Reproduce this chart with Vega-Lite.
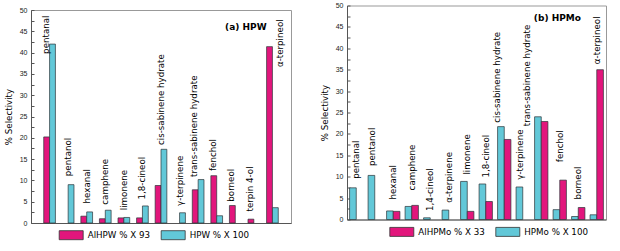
{
  "$schema": "https://vega.github.io/schema/vega-lite/v6.json",
  "padding": {"left": 3, "top": 0.5, "right": 0, "bottom": 0},
  "spacing": 27,
  "config": {
    "font": "DejaVu Sans",
    "view": {"stroke": "#999", "strokeWidth": 1},
    "axis": {"grid": false, "domainColor": "#555", "tickColor": "#555", "labelFont": "Liberation Sans", "labelFontSize": 7, "labelColor": "#222", "titleFont": "DejaVu Sans", "titleFontSize": 8.7, "titleFontWeight": "normal", "titleColor": "#000"},
    "axisX": {"labels": false, "ticks": false},
    "legend": {"labelFont": "DejaVu Sans", "labelFontSize": 8.7, "labelColor": "#000", "symbolType": "M-1,-0.375H1V0.375H-1Z", "symbolSize": 576, "symbolStrokeColor": "#333", "symbolStrokeWidth": 0.8, "symbolOpacity": 1, "columnPadding": 8, "padding": 0, "labelOffset": 4, "symbolOffset": 0, "direction": "horizontal", "orient": "none"}
  },
  "datasets": {
    "a": [
      {"cat": "pentanal", "s": "AlHPW % X 93", "v": 20.2},
      {"cat": "pentanal", "s": "HPW % X 100", "v": 42.0},
      {"cat": "pentanol", "s": "HPW % X 100", "v": 9.0},
      {"cat": "hexanal", "s": "AlHPW % X 93", "v": 1.6},
      {"cat": "hexanal", "s": "HPW % X 100", "v": 2.6},
      {"cat": "camphene", "s": "AlHPW % X 93", "v": 1.0},
      {"cat": "camphene", "s": "HPW % X 100", "v": 3.0},
      {"cat": "limonene", "s": "AlHPW % X 93", "v": 1.2},
      {"cat": "limonene", "s": "HPW % X 100", "v": 1.3},
      {"cat": "1,8-cineol", "s": "AlHPW % X 93", "v": 1.2},
      {"cat": "1,8-cineol", "s": "HPW % X 100", "v": 4.0},
      {"cat": "cis-sabinene hydrate", "s": "AlHPW % X 93", "v": 8.8},
      {"cat": "cis-sabinene hydrate", "s": "HPW % X 100", "v": 17.3},
      {"cat": "γ-terpinene", "s": "HPW % X 100", "v": 2.4},
      {"cat": "trans-sabinene hydrate", "s": "AlHPW % X 93", "v": 7.8},
      {"cat": "trans-sabinene hydrate", "s": "HPW % X 100", "v": 10.2},
      {"cat": "fenchol", "s": "AlHPW % X 93", "v": 11.1},
      {"cat": "fenchol", "s": "HPW % X 100", "v": 1.7},
      {"cat": "borneol", "s": "AlHPW % X 93", "v": 4.1},
      {"cat": "terpin 4-ol", "s": "AlHPW % X 93", "v": 0.9},
      {"cat": "α-terpineol", "s": "AlHPW % X 93", "v": 41.4},
      {"cat": "α-terpineol", "s": "HPW % X 100", "v": 3.6}
    ],
    "la": [
      {"cat": "pentanal", "at": 39.7, "slot": "l"},
      {"cat": "pentanol", "at": 11.0, "slot": "c"},
      {"cat": "hexanal", "at": 4.6, "slot": "c"},
      {"cat": "camphene", "at": 4.3, "slot": "c"},
      {"cat": "limonene", "at": 3.0, "slot": "c"},
      {"cat": "1,8-cineol", "at": 5.5, "slot": "c"},
      {"cat": "cis-sabinene hydrate", "at": 18.3, "slot": "c"},
      {"cat": "γ-terpinene", "at": 4.0, "slot": "c"},
      {"cat": "trans-sabinene hydrate", "at": 10.8, "slot": "l"},
      {"cat": "fenchol", "at": 12.2, "slot": "l"},
      {"cat": "borneol", "at": 5.0, "slot": "l"},
      {"cat": "terpin 4-ol", "at": 2.7, "slot": "l"},
      {"cat": "α-terpineol", "at": 36.6, "slot": "r"}
    ],
    "b": [
      {"cat": "pentanal", "s": "HPMo % X 100", "v": 7.4},
      {"cat": "pentanol", "s": "HPMo % X 100", "v": 10.3},
      {"cat": "hexanal", "s": "HPMo % X 100", "v": 2.0},
      {"cat": "hexanal", "s": "AlHPMo % X 33", "v": 1.9},
      {"cat": "camphene", "s": "HPMo % X 100", "v": 3.05},
      {"cat": "camphene", "s": "AlHPMo % X 33", "v": 3.3},
      {"cat": "1,4-cineol", "s": "HPMo % X 100", "v": 0.4},
      {"cat": "α-terpinene", "s": "HPMo % X 100", "v": 2.2},
      {"cat": "limonene", "s": "HPMo % X 100", "v": 8.9},
      {"cat": "limonene", "s": "AlHPMo % X 33", "v": 1.9},
      {"cat": "1,8-cineol", "s": "HPMo % X 100", "v": 8.3},
      {"cat": "1,8-cineol", "s": "AlHPMo % X 33", "v": 4.2},
      {"cat": "cis-sabinene hydrate", "s": "HPMo % X 100", "v": 21.7},
      {"cat": "cis-sabinene hydrate", "s": "AlHPMo % X 33", "v": 18.7},
      {"cat": "γ-terpinene", "s": "HPMo % X 100", "v": 7.6},
      {"cat": "trans-sabinene hydrate", "s": "HPMo % X 100", "v": 24.0},
      {"cat": "trans-sabinene hydrate", "s": "AlHPMo % X 33", "v": 22.9},
      {"cat": "fenchol", "s": "HPMo % X 100", "v": 2.3},
      {"cat": "fenchol", "s": "AlHPMo % X 33", "v": 9.2},
      {"cat": "borneol", "s": "HPMo % X 100", "v": 0.7},
      {"cat": "borneol", "s": "AlHPMo % X 33", "v": 2.8},
      {"cat": "α-terpineol", "s": "HPMo % X 100", "v": 1.1},
      {"cat": "α-terpineol", "s": "AlHPMo % X 33", "v": 35.0}
    ],
    "lb": [
      {"cat": "pentanal", "at": 9.5, "slot": "c"},
      {"cat": "pentanol", "at": 12.5, "slot": "l"},
      {"cat": "hexanal", "at": 4.7, "slot": "c"},
      {"cat": "camphene", "at": 6.8, "slot": "c"},
      {"cat": "1,4-cineol", "at": 2.0, "slot": "c"},
      {"cat": "α-terpinene", "at": 3.9, "slot": "c"},
      {"cat": "limonene", "at": 10.5, "slot": "c"},
      {"cat": "1,8-cineol", "at": 9.8, "slot": "c"},
      {"cat": "cis-sabinene hydrate", "at": 22.6, "slot": "ll"},
      {"cat": "γ-terpinene", "at": 9.3, "slot": "l"},
      {"cat": "trans-sabinene hydrate", "at": 21.8, "slot": "lll"},
      {"cat": "fenchol", "at": 13.4, "slot": "c"},
      {"cat": "borneol", "at": 4.7, "slot": "c"},
      {"cat": "α-terpineol", "at": 36.3, "slot": "c"}
    ]
  },
  "hconcat": [
    {
      "spacing": -1.5,
      "vconcat": [
        {
          "width": 260,
          "height": 1,
          "view": {"stroke": null},
          "data": {"values": []},
          "mark": "point"
        },
        {
          "width": 260,
          "height": 213,
          "layer": [
            {
              "data": {"name": "a"},
              "mark": {"type": "bar", "stroke": "#2b3338", "strokeWidth": 0.7},
              "encoding": {
                "x": {"field": "cat", "type": "nominal", "title": null,
                  "scale": {"domain": ["pentanal", "pentanol", "hexanal", "camphene", "limonene", "1,8-cineol", "cis-sabinene hydrate", "γ-terpinene", "trans-sabinene hydrate", "fenchol", "borneol", "terpin 4-ol", "α-terpineol"], "paddingInner": 0.37, "paddingOuter": 0.685}},
                "xOffset": {"field": "s", "type": "nominal", "scale": {"domain": ["AlHPW % X 93", "HPW % X 100"], "paddingInner": 0, "paddingOuter": 0}},
                "y": {"field": "v", "type": "quantitative", "title": "% Selectivity",
                  "scale": {"domain": [0, 50], "nice": false},
                  "axis": {"values": [0, 2.5, 5, 7.5, 10, 12.5, 15, 17.5, 20, 22.5, 25, 27.5, 30, 32.5, 35, 37.5, 40, 42.5, 45, 47.5, 50], "labelExpr": "datum.value % 5 === 0 ? datum.label : ''", "labelOverlap": false, "tickSize": -3, "labelPadding": 7, "titlePadding": 6}},
                "color": {"field": "s", "type": "nominal",
                  "scale": {"domain": ["AlHPW % X 93", "HPW % X 100"], "range": ["#e2167c", "#62c8d8"]},
                  "legend": {"title": null, "legendX": 27.7, "legendY": 217}}
              }
            },
            {
              "data": {"name": "la"},
              "transform": [{"filter": "datum.slot === 'c'"}],
              "mark": {"type": "text", "angle": 270, "align": "left", "baseline": "middle", "fontSize": 8.7, "color": "#000", "dy": 0},
              "encoding": {"x": {"field": "cat", "type": "nominal", "title": null}, "y": {"field": "at", "type": "quantitative", "title": "% Selectivity", "axis": {"values": [0, 2.5, 5, 7.5, 10, 12.5, 15, 17.5, 20, 22.5, 25, 27.5, 30, 32.5, 35, 37.5, 40, 42.5, 45, 47.5, 50], "labelExpr": "datum.value % 5 === 0 ? datum.label : ''", "labelOverlap": false, "tickSize": -3, "labelPadding": 7, "titlePadding": 6}}, "text": {"field": "cat"}}
            },
            {
              "data": {"name": "la"},
              "transform": [{"filter": "datum.slot === 'l'"}],
              "mark": {"type": "text", "angle": 270, "align": "left", "baseline": "middle", "fontSize": 8.7, "color": "#000", "dy": -4},
              "encoding": {"x": {"field": "cat", "type": "nominal", "title": null}, "y": {"field": "at", "type": "quantitative", "title": "% Selectivity", "axis": {"values": [0, 2.5, 5, 7.5, 10, 12.5, 15, 17.5, 20, 22.5, 25, 27.5, 30, 32.5, 35, 37.5, 40, 42.5, 45, 47.5, 50], "labelExpr": "datum.value % 5 === 0 ? datum.label : ''", "labelOverlap": false, "tickSize": -3, "labelPadding": 7, "titlePadding": 6}}, "text": {"field": "cat"}}
            },
            {
              "data": {"name": "la"},
              "transform": [{"filter": "datum.slot === 'r'"}],
              "mark": {"type": "text", "angle": 270, "align": "left", "baseline": "middle", "fontSize": 8.7, "color": "#000", "dy": 8},
              "encoding": {"x": {"field": "cat", "type": "nominal", "title": null}, "y": {"field": "at", "type": "quantitative", "title": "% Selectivity", "axis": {"values": [0, 2.5, 5, 7.5, 10, 12.5, 15, 17.5, 20, 22.5, 25, 27.5, 30, 32.5, 35, 37.5, 40, 42.5, 45, 47.5, 50], "labelExpr": "datum.value % 5 === 0 ? datum.label : ''", "labelOverlap": false, "tickSize": -3, "labelPadding": 7, "titlePadding": 6}}, "text": {"field": "cat"}}
            },
            {
              "data": {"values": [{"t": "(a) HPW"}]},
              "mark": {"type": "text", "align": "right", "baseline": "alphabetic", "fontSize": 9, "fontWeight": "bold", "color": "#000"},
              "encoding": {"x": {"datum": "α-terpineol", "type": "nominal", "bandPosition": 0, "title": null}, "y": {"datum": 45.3, "type": "quantitative", "title": "% Selectivity", "axis": {"values": [0, 2.5, 5, 7.5, 10, 12.5, 15, 17.5, 20, 22.5, 25, 27.5, 30, 32.5, 35, 37.5, 40, 42.5, 45, 47.5, 50], "labelExpr": "datum.value % 5 === 0 ? datum.label : ''", "labelOverlap": false, "tickSize": -3, "labelPadding": 7, "titlePadding": 6}}, "text": {"field": "t"}}
            }
          ]
        }
      ]
    },
    {
      "width": 259,
      "height": 214,
      "layer": [
        {
          "data": {"name": "b"},
          "mark": {"type": "bar", "stroke": "#2b3338", "strokeWidth": 0.7},
          "encoding": {
            "x": {"field": "cat", "type": "nominal", "title": null,
              "scale": {"domain": ["pentanal", "pentanol", "hexanal", "camphene", "1,4-cineol", "α-terpinene", "limonene", "1,8-cineol", "cis-sabinene hydrate", "γ-terpinene", "trans-sabinene hydrate", "fenchol", "borneol", "α-terpineol"], "paddingInner": 0.28, "paddingOuter": 0.14}},
            "xOffset": {"field": "s", "type": "nominal", "scale": {"domain": ["HPMo % X 100", "AlHPMo % X 33"], "paddingInner": 0, "paddingOuter": 0}},
            "y": {"field": "v", "type": "quantitative", "title": "% Selectivity",
              "scale": {"domain": [0, 50], "nice": false},
              "axis": {"values": [0, 2.5, 5, 7.5, 10, 12.5, 15, 17.5, 20, 22.5, 25, 27.5, 30, 32.5, 35, 37.5, 40, 42.5, 45, 47.5, 50], "labelExpr": "datum.value % 5 === 0 ? datum.label : ''", "labelOverlap": false, "tickSize": -3, "labelPadding": 7, "titlePadding": 6}},
            "color": {"field": "s", "type": "nominal",
              "scale": {"domain": ["AlHPMo % X 33", "HPMo % X 100"], "range": ["#e2167c", "#62c8d8"]},
              "legend": {"title": null, "legendX": 42.3, "legendY": 213.7}}
          }
        },
        {
          "data": {"name": "lb"},
          "transform": [{"filter": "datum.slot === 'c'"}],
          "mark": {"type": "text", "angle": 270, "align": "left", "baseline": "middle", "fontSize": 8.7, "color": "#000", "dy": 0},
          "encoding": {"x": {"field": "cat", "type": "nominal", "title": null}, "y": {"field": "at", "type": "quantitative", "title": "% Selectivity", "axis": {"values": [0, 2.5, 5, 7.5, 10, 12.5, 15, 17.5, 20, 22.5, 25, 27.5, 30, 32.5, 35, 37.5, 40, 42.5, 45, 47.5, 50], "labelExpr": "datum.value % 5 === 0 ? datum.label : ''", "labelOverlap": false, "tickSize": -3, "labelPadding": 7, "titlePadding": 6}}, "text": {"field": "cat"}}
        },
        {
          "data": {"name": "lb"},
          "transform": [{"filter": "datum.slot === 'l'"}],
          "mark": {"type": "text", "angle": 270, "align": "left", "baseline": "middle", "fontSize": 8.7, "color": "#000", "dy": -3},
          "encoding": {"x": {"field": "cat", "type": "nominal", "title": null}, "y": {"field": "at", "type": "quantitative", "title": "% Selectivity", "axis": {"values": [0, 2.5, 5, 7.5, 10, 12.5, 15, 17.5, 20, 22.5, 25, 27.5, 30, 32.5, 35, 37.5, 40, 42.5, 45, 47.5, 50], "labelExpr": "datum.value % 5 === 0 ? datum.label : ''", "labelOverlap": false, "tickSize": -3, "labelPadding": 7, "titlePadding": 6}}, "text": {"field": "cat"}}
        },
        {
          "data": {"name": "lb"},
          "transform": [{"filter": "datum.slot === 'll'"}],
          "mark": {"type": "text", "angle": 270, "align": "left", "baseline": "middle", "fontSize": 8.7, "color": "#000", "dy": -7},
          "encoding": {"x": {"field": "cat", "type": "nominal", "title": null}, "y": {"field": "at", "type": "quantitative", "title": "% Selectivity", "axis": {"values": [0, 2.5, 5, 7.5, 10, 12.5, 15, 17.5, 20, 22.5, 25, 27.5, 30, 32.5, 35, 37.5, 40, 42.5, 45, 47.5, 50], "labelExpr": "datum.value % 5 === 0 ? datum.label : ''", "labelOverlap": false, "tickSize": -3, "labelPadding": 7, "titlePadding": 6}}, "text": {"field": "cat"}}
        },
        {
          "data": {"name": "lb"},
          "transform": [{"filter": "datum.slot === 'lll'"}],
          "mark": {"type": "text", "angle": 270, "align": "left", "baseline": "middle", "fontSize": 8.7, "color": "#000", "dy": -14},
          "encoding": {"x": {"field": "cat", "type": "nominal", "title": null}, "y": {"field": "at", "type": "quantitative", "title": "% Selectivity", "axis": {"values": [0, 2.5, 5, 7.5, 10, 12.5, 15, 17.5, 20, 22.5, 25, 27.5, 30, 32.5, 35, 37.5, 40, 42.5, 45, 47.5, 50], "labelExpr": "datum.value % 5 === 0 ? datum.label : ''", "labelOverlap": false, "tickSize": -3, "labelPadding": 7, "titlePadding": 6}}, "text": {"field": "cat"}}
        },
        {
          "data": {"values": [{"t": "(b) HPMo"}]},
          "mark": {"type": "text", "align": "right", "baseline": "alphabetic", "fontSize": 9, "fontWeight": "bold", "color": "#000"},
          "encoding": {"x": {"datum": "borneol", "type": "nominal", "bandPosition": 0.7, "title": null}, "y": {"datum": 46.3, "type": "quantitative", "title": "% Selectivity", "axis": {"values": [0, 2.5, 5, 7.5, 10, 12.5, 15, 17.5, 20, 22.5, 25, 27.5, 30, 32.5, 35, 37.5, 40, 42.5, 45, 47.5, 50], "labelExpr": "datum.value % 5 === 0 ? datum.label : ''", "labelOverlap": false, "tickSize": -3, "labelPadding": 7, "titlePadding": 6}}, "text": {"field": "t"}}
        }
      ]
    }
  ],
  "resolve": {"scale": {"x": "independent", "y": "independent", "color": "independent", "xOffset": "independent"}, "legend": {"color": "independent"}, "axis": {"x": "independent", "y": "independent"}}
}
